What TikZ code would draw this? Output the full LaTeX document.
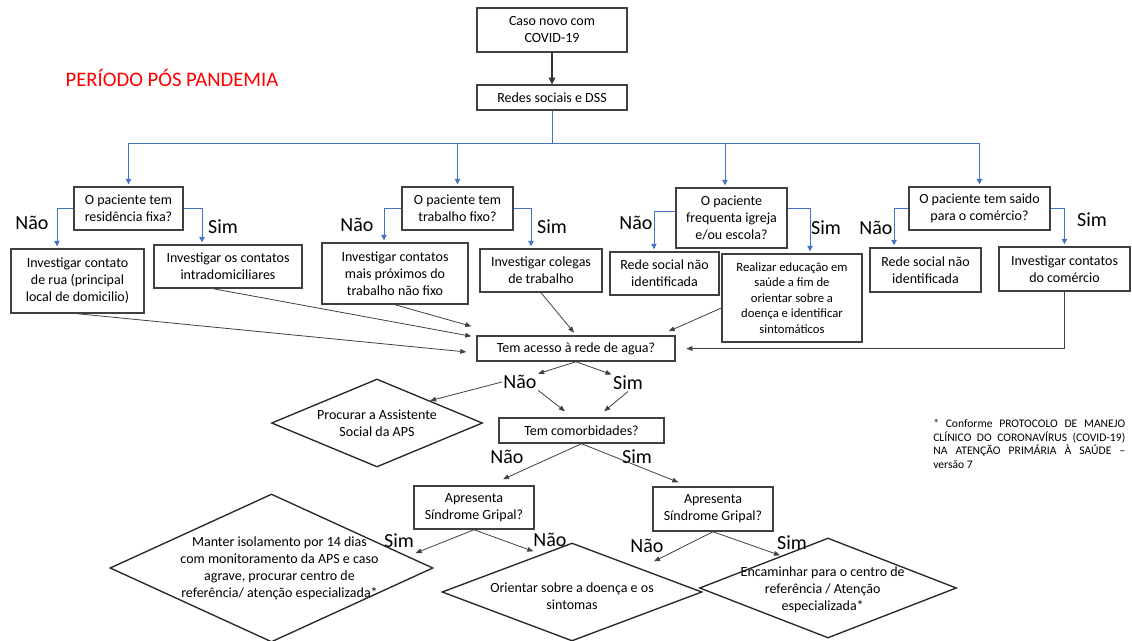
\documentclass[tikz,border=0pt]{standalone}
\usepackage{fontspec}
\setmainfont{Carlito}
\usetikzlibrary{arrows.meta,shapes.geometric,positioning,calc}
\definecolor{officeblue}{RGB}{68,114,196}
\definecolor{boxline}{gray}{0.25}
\newcommand{\boxfont}{\fontsize{10.5}{12.75}\selectfont}
\newcommand{\smallboxfont}{\fontsize{9.5}{11.6}\selectfont}
\newcommand{\answerfont}{\fontsize{15}{18}\selectfont}

\begin{document}
\begin{tikzpicture}[x=0.75pt,y=-0.75pt]

\tikzset{stepbox/.style={draw=boxline,line width=1.1pt,align=center,font=\boxfont,inner sep=1pt},
decision/.style={shape=diamond,draw=black!85,line width=1pt,inner sep=0pt},
answer/.style={font=\answerfont,inner sep=1pt},
blueline/.style={draw=officeblue,line width=0.7pt},
bluearrow/.style={blueline,shorten >=1.5pt,-{Triangle[length=4pt,width=4pt]}},
flowarrow/.style={draw=black!75,line width=0.6pt,-{Triangle[length=4.5pt,width=3.5pt]}}}

\useasboundingbox (0,0) rectangle (1132,640);

% Title
\node[text=red,font=\fontsize{15.5}{18}\selectfont] (title) at (172,78) {PERÍODO PÓS PANDEMIA};

% Start
\node[stepbox,minimum width=112.5pt,minimum height=33pt] (caso) at (552,30) {Caso novo com\\COVID-19};
\node[stepbox,minimum width=112.5pt,minimum height=18.75pt] (redes) at (552,97.5) {Redes sociais e DSS};
\draw[draw=black!80,line width=0.8pt,-{Triangle[length=5pt,width=5pt]}] (caso) -- (redes);

% Questions on the social network
\node[stepbox,minimum width=81.75pt,minimum height=32.25pt] (resid) at (128.5,208.5) {O paciente tem\\residência fixa?};
\node[stepbox,minimum width=83.25pt,minimum height=32.25pt] (trab) at (457.5,208.5) {O paciente tem\\trabalho fixo?};
\node[stepbox,minimum width=83.25pt,minimum height=45pt] (igreja) at (731.5,218) {O paciente\\frequenta igreja\\e/ou escola?};
\node[stepbox,minimum width=105.75pt,minimum height=32.25pt] (comercio) at (979.5,208.5) {O paciente tem saido\\para o comércio?};

\coordinate (bus) at (552,143);
\draw[blueline] (redes.south) -- (bus);
\foreach \q in {resid,trab,comercio} \draw[bluearrow] (bus) -| (\q.north);
\draw[bluearrow] (bus) -| ([xshift=-4.9pt]igreja.north);

% Contacts to investigate
\node[stepbox,minimum width=99.75pt,minimum height=48pt] (rua) at (77.5,281) {Investigar contato\\de rua (principal\\local de domicilio)};
\node[stepbox,minimum width=111pt,minimum height=32.25pt] (intra) at (228,266.5) {Investigar os contatos\\intradomiciliares};
\node[stepbox,minimum width=109.5pt,minimum height=45.75pt] (proximos) at (395,273.5) {Investigar contatos\\mais próximos do\\trabalho não fixo};
\node[stepbox,minimum width=91.5pt,minimum height=32.25pt] (colegas) at (541,270.5) {Investigar colegas\\de trabalho};
\node[stepbox,minimum width=81.75pt,minimum height=32.25pt] (semrede1) at (664.5,273.5) {Rede social não\\identificada};
\node[stepbox,font=\smallboxfont,minimum width=105pt,minimum height=66pt] (educ) at (792,298) {Realizar educação em\\saúde a fim de\\orientar sobre a\\doença e identificar\\sintomáticos};
\node[stepbox,minimum width=83.25pt,minimum height=33pt] (semrede2) at (925.5,270) {Rede social não\\identificada};
\node[stepbox,minimum width=98.25pt,minimum height=33pt] (contcom) at (1064.5,269) {Investigar contatos\\do comércio};

% Yes / no
\node[answer] (nao1) at (32,223) {Não};  \node[answer] (sim1) at (223,227) {Sim};
\node[answer] (nao2) at (357,225) {Não}; \node[answer] (sim2) at (552,227) {Sim};
\node[answer] (nao3) at (636,223) {Não}; \node[answer] (sim3) at (826,228) {Sim};
\node[answer] (nao4) at (876,228) {Não}; \node[answer] (sim4) at (1092,220) {Sim};

\draw[bluearrow] (resid.west) -| ([xshift=-15.4pt]rua.north);
\draw[bluearrow] (resid.east) -| ([xshift=-19.5pt]intra.north);
\draw[bluearrow] (trab.west) -| ([xshift=-8.25pt]proximos.north);
\draw[bluearrow] (trab.east) -| ([xshift=-7.5pt]colegas.north);
\draw[bluearrow] ([yshift=5pt]igreja.west) -| ([xshift=-7.9pt]semrede1.north);
\draw[bluearrow] ([yshift=7pt]igreja.east) -| ([xshift=13.5pt]educ.north);
\draw[bluearrow] (comercio.west) -| ([xshift=-23.6pt]semrede2.north);
\draw[bluearrow] (comercio.east) -| (contcom.north);

% Water
\node[stepbox,minimum width=148.5pt,minimum height=18.75pt] (agua) at (576,348.5) {Tem acesso à rede de agua?};
\draw[flowarrow] (rua.south) -- ([xshift=-7.5pt,yshift=-2.6pt]agua.west);
\draw[flowarrow] ([xshift=-11pt]intra.south) -- ([xshift=-3.75pt,yshift=-0.75pt]agua.north west);
\draw[flowarrow] (proximos.south) -- ([xshift=-3.75pt,yshift=6.75pt]agua.north west);
\draw[flowarrow] (colegas.south) -- ([xshift=-1.5pt,yshift=2pt]agua.north);
\draw[flowarrow] ([yshift=-7.5pt]educ.west) -- ([xshift=-5.25pt,yshift=3pt]agua.north east);
\draw[flowarrow] (contcom.south) |- ([xshift=8pt]agua.east);

\node[answer] (naoAgua) at (520,382) {Não};
\node[answer] (simAgua) at (628,383) {Sim};
\draw[flowarrow] (agua.south) -- (naoAgua.north east);
\draw[flowarrow] (agua.south) -- (simAgua.north west);

\node[decision,minimum width=158.25pt,minimum height=66pt,label={[align=center,font=\boxfont]center:{Procurar a Assistente\\Social da APS}}] (assist) at (377,423) {};
\node[stepbox,minimum width=123.75pt,minimum height=18.75pt] (comorb) at (581.5,430.5) {Tem comorbidades?};
\draw[flowarrow] (naoAgua.west) -- (assist.north east);
\draw[flowarrow] (naoAgua.south east) -- ([xshift=-12.4pt,yshift=4.5pt]comorb.north);
\draw[flowarrow] (simAgua.south) -- ([xshift=17pt,yshift=4.5pt]comorb.north);

% Comorbidities
\node[answer] (naoComorb) at (507,457) {Não};
\node[answer] (simComorb) at (637,457) {Sim};
\node[stepbox,minimum width=90pt,minimum height=32.25pt] (gripe1) at (474,507.5) {Apresenta\\Síndrome Gripal?};
\node[stepbox,minimum width=90pt,minimum height=33pt] (gripe2) at (713,509) {Apresenta\\Síndrome Gripal?};
\draw[flowarrow] (comorb.south) -- ([xshift=21.75pt,yshift=4.5pt]gripe1.north);
\draw[flowarrow] (comorb.south) -- ([xshift=-26pt,yshift=3pt]gripe2.north);

% Flu syndrome
\node[answer] (simGripe1) at (399,541) {Sim};
\node[answer] (naoGripe1) at (550,540) {Não};
\node[answer] (naoGripe2) at (647,546) {Não};
\node[answer] (simGripe2) at (792,543) {Sim};

\node[decision,minimum width=242.25pt,minimum height=111pt,label={[align=center,font=\boxfont,xshift=6pt]center:{Manter isolamento por 14 dias\\com monitoramento da APS e caso\\agrave, procurar centro de\\referência/ atenção especializada*}}] (manter) at (271.5,568) {};
\node[decision,minimum width=195pt,minimum height=73.5pt,label={[align=center,font=\boxfont,yshift=-3pt]center:{Orientar sobre a doença e os\\sintomas}}] (orientar) at (572,592) {};
\node[decision,minimum width=192.75pt,minimum height=75pt,label={[align=center,font=\boxfont,xshift=-4pt,yshift=-1.5pt]center:{Encaminhar para o centro de\\referência / Atenção\\especializada*}}] (encaminhar) at (828,588) {};

\draw[flowarrow] (gripe1.south) -- ([xshift=-13.5pt,yshift=11.25pt]manter.east);
\draw[flowarrow] (gripe1.south) -- ([xshift=-29pt,yshift=-6.75pt]orientar.north);
\draw[flowarrow] (gripe2.south) -- ([xshift=61.5pt,yshift=-14.25pt]orientar.north);
\draw[flowarrow] (gripe2.south) -- ([xshift=-36pt,yshift=-13.5pt]encaminhar.north);

% Note
\node[text width=144pt,align=justify,inner sep=0pt,anchor=north west,font=\fontsize{8.7}{10.2}\selectfont] (nota) at (933,419) {* Conforme PROTOCOLO DE MANEJO\linebreak CLÍNICO DO CORONAVÍRUS (COVID-19)\linebreak NA ATENÇÃO PRIMÁRIA À SAÚDE –\linebreak versão 7};

\end{tikzpicture}
\end{document}
